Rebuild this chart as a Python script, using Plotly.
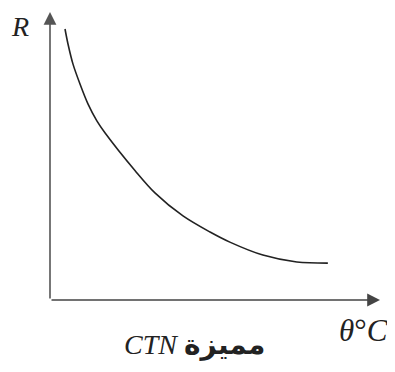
import plotly.graph_objects as go

# CTN characteristic: resistance R vs temperature θ (arbitrary units)
theta = [4.55, 5.45, 6.97, 9.09, 11.5, 14.2, 16.7, 25.8, 31.8, 40.3, 48.5, 54.5, 64.5, 74.8, 84.2]
resistance = [94.1, 88.9, 81.9, 75.0, 68.1, 62.2, 58.0, 44.9, 37.2, 29.2, 23.6, 20.1, 15.6, 13.2, 12.8]

x_label = "<i>θ</i>°<i>C</i>"
y_label = "<i>R</i>"
caption = "<i>CTN</i> <b>مميزة</b>"

W, H = 395, 372
OFF = 8  # page body margin
L, R_, T, B = 50 - OFF, W - (380 - OFF), 12 - OFF, H - (300 - OFF)

fig = go.Figure()
fig.add_trace(go.Scatter(
    x=theta, y=resistance, mode="lines",
    line=dict(color="#222222", width=1.6, shape="spline", smoothing=0.9),
    hoverinfo="skip", showlegend=False,
))

# axes with arrows
fig.add_annotation(x=100, y=0, ax=0, ay=0, xref="x", yref="y", axref="x", ayref="y",
                   text="", showarrow=True, arrowhead=2, arrowsize=1.6, arrowwidth=1.6,
                   arrowcolor="#444444")
fig.add_annotation(x=0, y=100, ax=0, ay=0, xref="x", yref="y", axref="x", ayref="y",
                   text="", showarrow=True, arrowhead=2, arrowsize=1.6, arrowwidth=1.6,
                   arrowcolor="#555555")

serif = "Liberation Serif, DejaVu Sans"
def px(xp, yp):
    return (xp - OFF) / W, 1 - (yp - OFF) / H

for txt, (xp, yp), size in [(y_label, (20, 27), 28), (x_label, (363, 330), 31), (caption, (194, 345), 28)]:
    xx, yy = px(xp, yp)
    fig.add_annotation(x=xx, y=yy, xref="paper", yref="paper", text=txt, showarrow=False,
                       xanchor="center", yanchor="middle", borderpad=0,
                       font=dict(family=serif, size=size, color="#222222"))

fig.update_layout(
    width=W, height=H,
    margin=dict(l=0, r=0, t=0, b=0, autoexpand=False),
    paper_bgcolor="white", plot_bgcolor="rgba(0,0,0,0)",
    xaxis=dict(range=[0, 100], domain=[L / W, (W - R_) / W], visible=False, fixedrange=True),
    yaxis=dict(range=[0, 100], domain=[B / H, (H - T) / H], visible=False, fixedrange=True),
)

fig.write_html("out.html")
